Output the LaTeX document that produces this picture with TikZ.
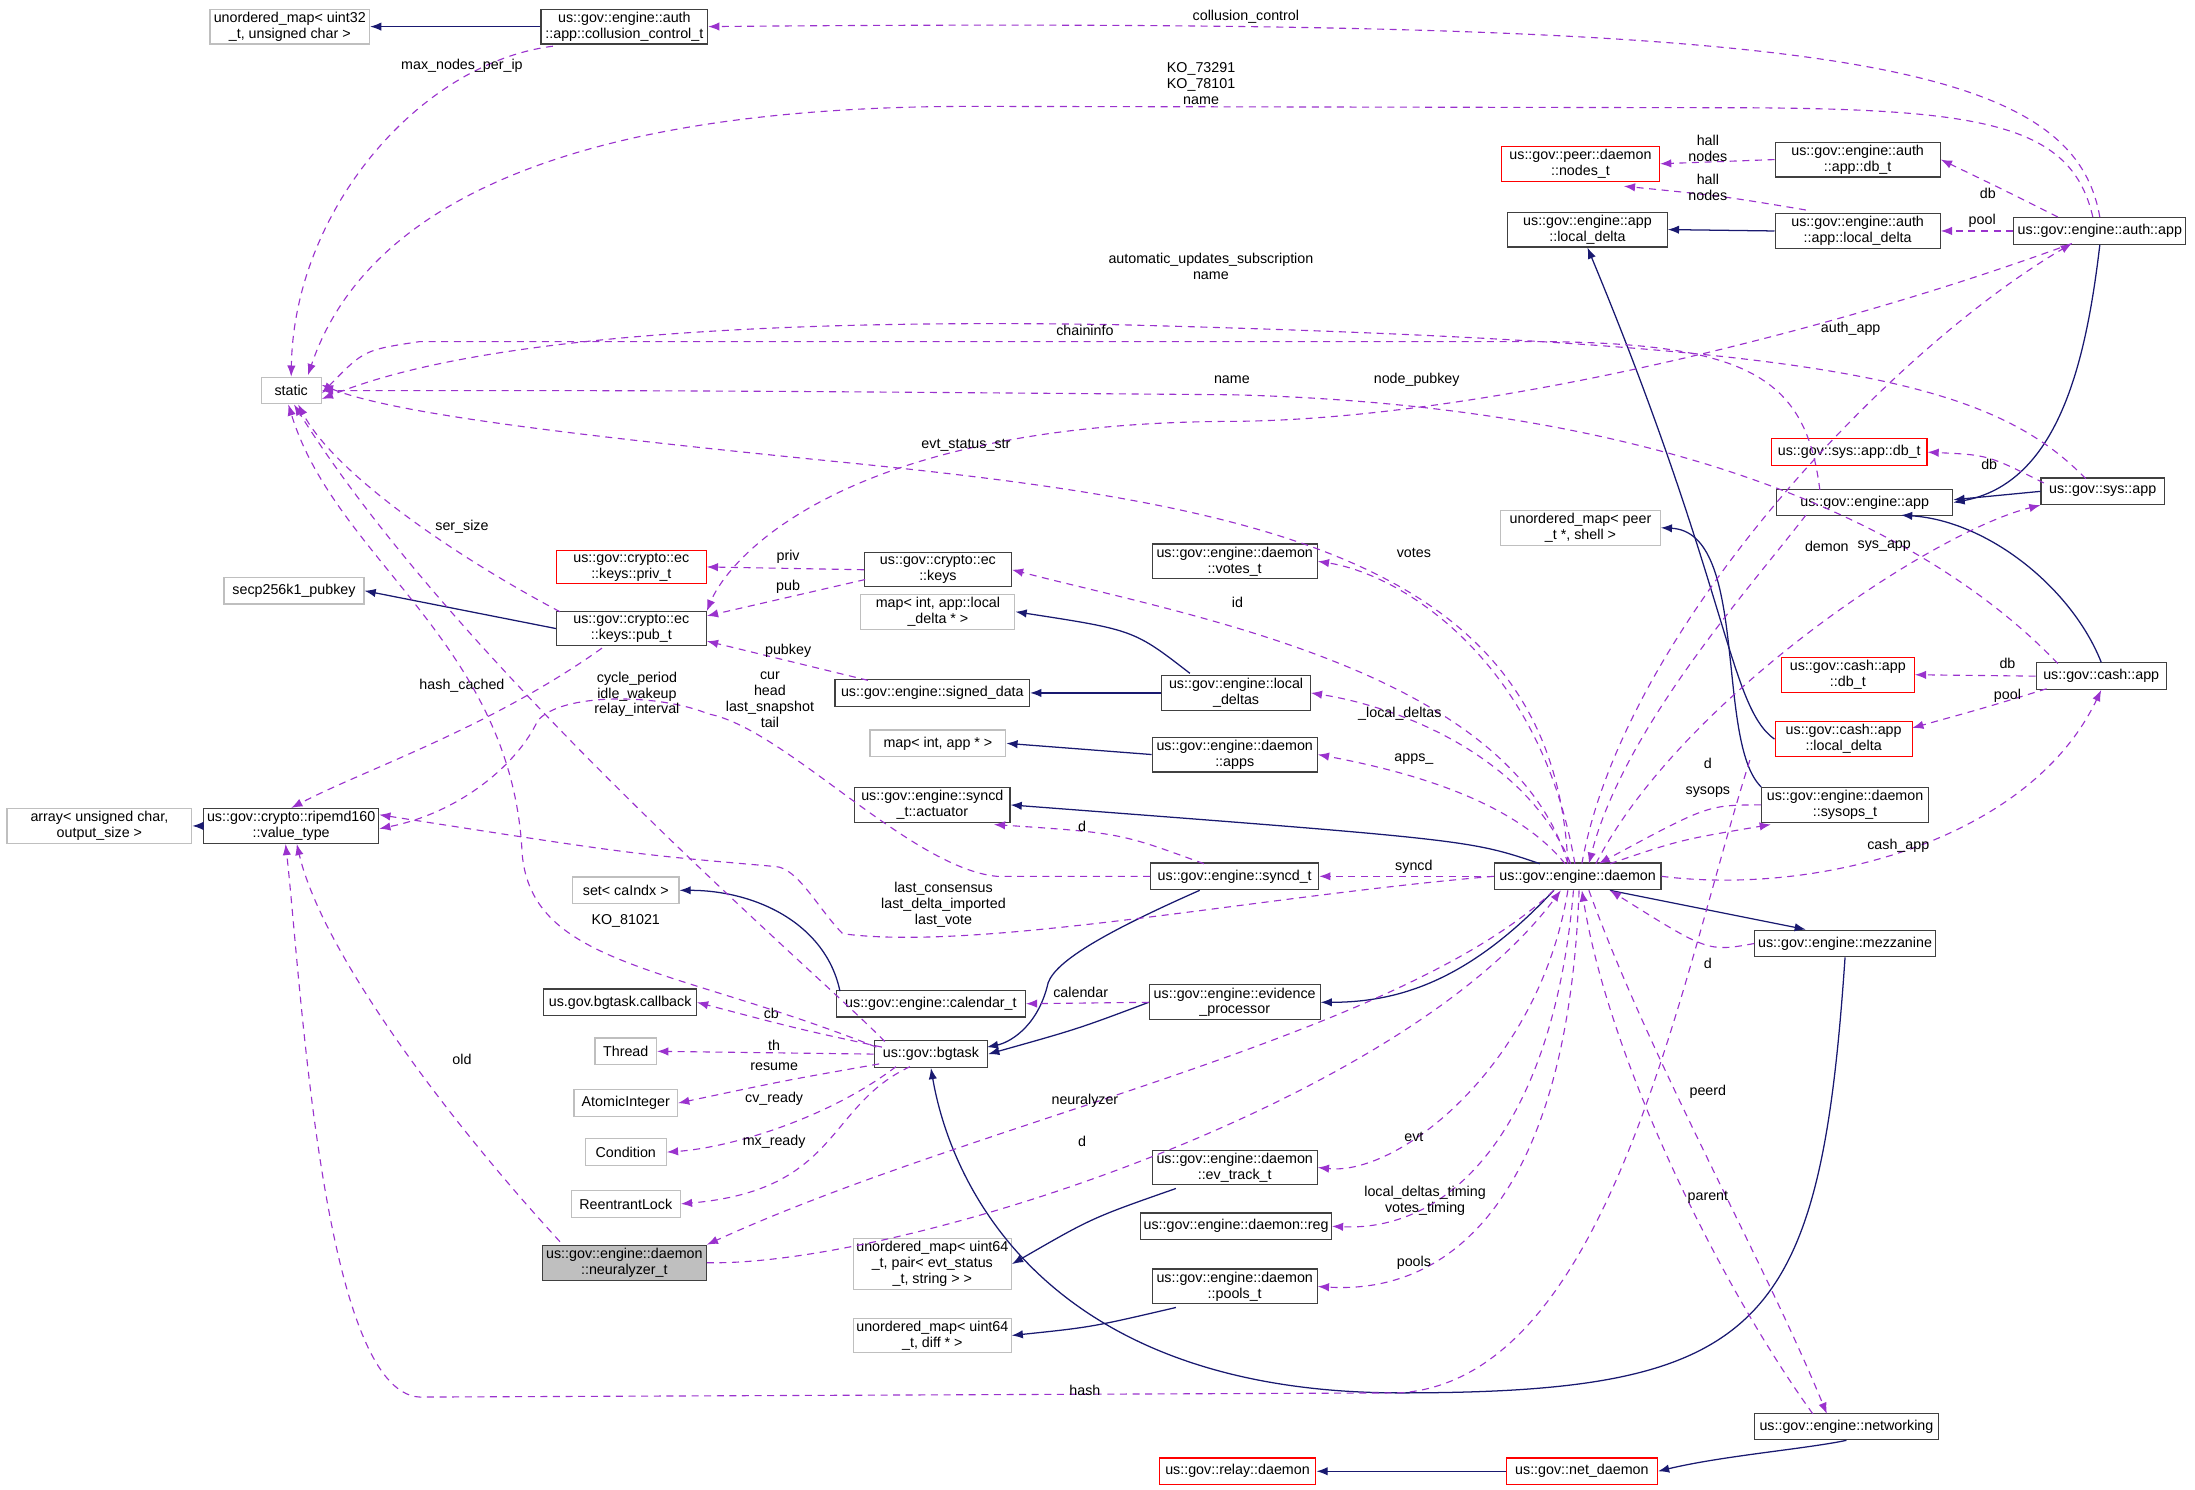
\documentclass[tikz,border=0pt]{standalone}
\usepackage{fontspec}
\setmainfont{Liberation Sans}
\usetikzlibrary{arrows.meta}
\definecolor{inhc}{HTML}{191970}
\definecolor{memc}{HTML}{9A32CD}
\definecolor{gbc}{HTML}{BFBFBF}
\begin{document}
\begin{tikzpicture}[x=1pt,y=-1pt,
  every node/.style={font=\fontsize{10.2}{11.4}\selectfont, align=center},
  box/.style={draw=black!75, line width=0.8pt, fill=white, inner xsep=2pt, inner ysep=2pt, minimum height=19pt},
  gbox/.style={box, draw=gbc},
  rbox/.style={box, draw=red},
  inh/.style={draw=inhc, line width=0.9pt, -{Latex[length=8pt,width=6pt]}},
  mem/.style={draw=memc, line width=0.8pt, dash pattern=on 5pt off 4pt, -{Latex[length=8pt,width=6pt]}},
  lbl/.style={inner sep=0.5pt}]
\useasboundingbox (0,0) rectangle (1568,1064);
% nodes
\node[gbox, minimum width=114] (um32) at (207,19) {unordered\_map< uint32\\\_t, unsigned char >};
\node[box, minimum width=119] (coll) at (446,19) {us::gov::engine::auth\\::app::collusion\_control\_t};
\node[gbox, minimum width=43] (static) at (208,279) {static};
\node[rbox, minimum width=113] (nodes) at (1129,117) {us::gov::peer::daemon\\::nodes\_t};
\node[box, minimum width=118] (aadb) at (1327,114) {us::gov::engine::auth\\::app::db\_t};
\node[box, minimum width=114] (ald) at (1134,164) {us::gov::engine::app\\::local\_delta};
\node[box, minimum width=118] (aald) at (1327,165) {us::gov::engine::auth\\::app::local\_delta};
\node[box, minimum width=123] (authapp) at (1500,165) {us::gov::engine::auth::app};
\node[rbox, minimum width=111] (sysdb) at (1321,323) {us::gov::sys::app::db\_t};
\node[box, minimum width=126] (engapp) at (1332,359) {us::gov::engine::app};
\node[box, minimum width=88] (sysapp) at (1502,351) {us::gov::sys::app};
\node[gbox, minimum width=114] (ump) at (1129,377) {unordered\_map< peer\\\_t *, shell >};
\node[rbox, minimum width=107] (privt) at (451,405) {us::gov::crypto::ec\\::keys::priv\_t};
\node[box, minimum width=105] (keys) at (670,407) {us::gov::crypto::ec\\::keys};
\node[box, minimum width=118] (votes) at (882,401) {us::gov::engine::daemon\\::votes\_t};
\node[gbox, minimum width=100] (secp) at (210,422) {secp256k1\_pubkey};
\node[box, minimum width=107] (pubt) at (451,449) {us::gov::crypto::ec\\::keys::pub\_t};
\node[gbox, minimum width=110] (mapld) at (670,437) {map< int, app::local\\\_delta * >};
\node[box, minimum width=139] (sd) at (666,495) {us::gov::engine::signed\_data};
\node[box, minimum width=106] (lds) at (883,495) {us::gov::engine::local\\\_deltas};
\node[rbox, minimum width=95] (cashdb) at (1320,482) {us::gov::cash::app\\::db\_t};
\node[box, minimum width=93] (cashapp) at (1501,483) {us::gov::cash::app};
\node[gbox, minimum width=97] (mapapp) at (670,531) {map< int, app * >};
\node[box, minimum width=118] (apps) at (882,539) {us::gov::engine::daemon\\::apps};
\node[rbox, minimum width=98] (cld) at (1317,528) {us::gov::cash::app\\::local\_delta};
\node[gbox, minimum width=132] (arr) at (71,590) {array< unsigned char,\\output\_size >};
\node[box, minimum width=125] (vt) at (208,590) {us::gov::crypto::ripemd160\\::value\_type};
\node[box, minimum width=111] (act) at (666,575) {us::gov::engine::syncd\\\_t::actuator};
\node[box, minimum width=119] (sysops) at (1318,575) {us::gov::engine::daemon\\::sysops\_t};
\node[box, minimum width=120] (syncd) at (882,626) {us::gov::engine::syncd\_t};
\node[box, minimum width=119] (D) at (1127,626) {us::gov::engine::daemon};
\node[gbox, minimum width=76] (setc) at (447,636) {set< caIndx >};
\node[box, minimum width=129] (mezz) at (1318,674) {us::gov::engine::mezzanine};
\node[box, minimum width=109] (cb) at (443,716) {us.gov.bgtask.callback};
\node[box, minimum width=135] (cal) at (665,717) {us::gov::engine::calendar\_t};
\node[box, minimum width=122] (evid) at (882,716) {us::gov::engine::evidence\\\_processor};
\node[gbox, minimum width=44] (thr) at (447,751) {Thread};
\node[box, minimum width=81] (bg) at (665,753) {us::gov::bgtask};
\node[gbox, minimum width=74] (atom) at (447,788) {AtomicInteger};
\node[gbox, minimum width=58] (cond) at (447,823) {Condition};
\node[box, minimum width=118] (evt) at (882,834) {us::gov::engine::daemon\\::ev\_track\_t};
\node[gbox, minimum width=78] (reen) at (447,860) {ReentrantLock};
\node[box, minimum width=135] (reg) at (883,876) {us::gov::engine::daemon::reg};
\node[box, fill=gbc, minimum width=117] (neur) at (446,902) {us::gov::engine::daemon\\::neuralyzer\_t};
\node[gbox, minimum width=113] (umpair) at (666,903) {unordered\_map< uint64\\\_t, pair< evt\_status\\\_t, string > >};
\node[box, minimum width=118] (pools) at (882,919) {us::gov::engine::daemon\\::pools\_t};
\node[gbox, minimum width=112] (umdiff) at (666,954) {unordered\_map< uint64\\\_t, diff * >};
\node[box, minimum width=132] (net) at (1319,1019) {us::gov::engine::networking};
\node[rbox, minimum width=112] (relay) at (884,1051) {us::gov::relay::daemon};
\node[rbox, minimum width=108] (netd) at (1130,1051) {us::gov::net\_daemon};

% solid
\draw[inh] (coll.west) -- (um32.east);
\draw[inh] (aald.west) -- (ald.east);
\draw[inh] (authapp.south) .. controls (1490,260) and (1470,345) .. (engapp.east);
\draw[inh] (sysapp.west) -- ([yshift=2pt]engapp.east);
\draw[inh] (cashapp.north) .. controls (1480,420) and (1420,372) .. (1358,368);
\draw[inh] (pubt.west) -- (secp.east);
\draw[inh] (850,481) .. controls (810,450) .. (mapld.east);
\draw[inh] (lds.west) -- (sd.east);
\draw[inh] (apps.west) -- (mapapp.east);
\draw[inh] (cld.west) .. controls (1235,505) and (1235,420) .. (ald.south);
\draw[inh] (sysops.north west) .. controls (1225,530) and (1250,380) .. (ump.east);
\draw[inh] (vt.west) -- (arr.east);
\draw[inh] (1100,617) .. controls (1050,600) .. (act.east);
\draw[inh] (1110,636) .. controls (1050,700) and (1000,716) .. (evid.east);
\draw[inh] (1150,636) -- (1290,664);
\draw[inh] (857,636) .. controls (780,670) and (750,690) .. (748,705) .. controls (740,735) and (720,745) .. (705,748);
\draw[inh] (evid.west) .. controls (770,735) .. (bg.east);
\draw[inh] (600,708) .. controls (590,660) and (540,636) .. (setc.east);
\draw[inh] (mezz.south) .. controls (1300,950) and (1260,995) .. (1000,995) .. controls (750,995) and (680,850) .. (bg.south);
\draw[inh] (840,849) .. controls (780,870) .. (umpair.east);
\draw[inh] (840,934) .. controls (780,948) .. (umdiff.east);
\draw[inh] (net.south) .. controls (1290,1035) and (1230,1040) .. (netd.east);
\draw[inh] (netd.west) -- (relay.east);

% dashed (members)
\draw[mem] (authapp.north) .. controls (1480,40) and (1300,12) .. (coll.east);
\node[lbl] (l1) at (890,12) {collusion\_control};
\draw[mem] (395,33) .. controls (300,45) and (210,150) .. (static.north);
\node[lbl] (l2) at (330,47) {max\_nodes\_per\_ip};
\draw[mem] (1495,155) .. controls (1480,90) and (1420,78) .. (1250,77) -- (700,76) .. controls (400,75) and (260,150) .. (220,268);
\node[lbl] (l3) at (858,60) {KO\_73291\\KO\_78101\\name};
\draw[mem] (aadb.west) -- (nodes.east);
\node[lbl] (l4) at (1220,106) {hall\\nodes};
\draw[mem] (1290,150) .. controls (1230,140) .. (1160,133);
\node[lbl] (l5) at (1220,134) {hall\\nodes};
\draw[mem] (1470,155) .. controls (1430,135) .. (aadb.east);
\node[lbl] (l6) at (1420,138) {db};
\draw[mem] (authapp.west) -- (aald.east);
\node[lbl] (l7) at (1416,158) {pool};
\draw[mem] (1490,342) .. controls (1420,270) and (1300,245) .. (800,232) .. controls (400,225) and (280,265) .. ([yshift=-6pt]static.east);
\node[lbl] (l8) at (865,190) {automatic\_updates\_subscription\\name};
\draw[mem] (1300,350) .. controls (1290,270) and (1250,245) .. (1100,244) -- (300,244) .. controls (260,250) .. ([yshift=-2pt]static.east);
\node[lbl] (l9) at (775,236) {chaininfo};
\draw[mem] (1470,474) .. controls (1380,380) and (1200,290) .. (880,282) .. controls (500,279) .. (static.east);
\node[lbl] (l10) at (880,271) {name};
\draw[mem] (1480,174) .. controls (1300,240) and (1050,300) .. (880,301) .. controls (600,302) and (520,400) .. (pubt.north east);
\node[lbl] (l11) at (1012,271) {node\_pubkey};
\draw[mem] (1120,617) .. controls (1110,400) and (900,360) .. (600,330) .. controls (400,310) and (280,295) .. ([yshift=4pt]static.east);
\node[lbl] (l12) at (690,318) {evt\_status\_str};
\draw[mem] (400,437) .. controls (330,400) and (240,340) .. ([xshift=5pt]static.south);
\node[lbl] (l13) at (330,376) {ser\_size};
\draw[mem] (keys.west) -- (privt.east);
\node[lbl] (l14) at (563,398) {priv};
\draw[mem] (618,414) -- (505,440);
\node[lbl] (l15) at (563,419) {pub};
\draw[mem] (620,486) -- (505,458);
\node[lbl] (l16) at (563,465) {pubkey};
\draw[mem] (1460,345) .. controls (1420,325) .. (sysdb.east);
\node[lbl] (l17) at (1421,332) {db};
\draw[mem] (cashapp.west) -- (cashdb.east);
\node[lbl] (l18) at (1434,474) {db};
\draw[mem] (1462,492) .. controls (1420,505) .. (1366,520);
\node[lbl] (l19) at (1434,497) {pool};
% daemon edges
\draw[mem] (1130,617) .. controls (1160,450) and (1350,250) .. (1480,174);
\node[lbl] (l20) at (1322,235) {auth\_app};
\draw[mem] (1290,368) .. controls (1250,420) and (1160,520) .. (1135,617);
\node[lbl] (l21) at (1305,390) {demon};
\draw[mem] (1140,617) .. controls (1200,500) and (1380,380) .. (sysapp.south west);
\node[lbl] (l22) at (1346,390) {sys\_app};
\draw[mem] (1120,617) .. controls (1080,480) and (850,440) .. (keys.east);
\node[lbl] (l23) at (884,430) {id};
\draw[mem] (1125,617) .. controls (1100,470) and (1000,410) .. (votes.east);
\node[lbl] (l24) at (1010,395) {votes};
\draw[mem] (1122,617) .. controls (1090,540) and (1000,505) .. (lds.east);
\node[lbl] (l25) at (1000,510) {\_local\_deltas};
\draw[mem] (1118,617) .. controls (1080,570) and (1000,550) .. (apps.east);
\node[lbl] (l26) at (1010,542) {apps\_};
\draw[mem] (sysops.west) .. controls (1220,575) .. (1142,617);
\node[lbl] (l27) at (1220,545) {d};
\draw[mem] (1150,617) .. controls (1200,600) .. (1265,589);
\node[lbl] (l28) at (1220,566) {sysops};
\draw[mem] (D.east) .. controls (1300,640) and (1450,600) .. (cashapp.south);
\node[lbl] (l29) at (1356,604) {cash\_app};
\draw[mem] (D.west) -- (syncd.east);
\node[lbl] (l30) at (1010,619) {syncd};
\draw[mem] (860,617) .. controls (800,595) .. (710,589);
\node[lbl] (l31) at (773,590) {d};
\draw[mem] (mezz.west) .. controls (1220,680) .. (1150,636);
\node[lbl] (l32) at (1220,688) {d};
\draw[mem] (1110,636) .. controls (1000,740) and (700,800) .. (neur.north east);
\node[lbl] (l33) at (775,786) {neuralyzer};
\draw[mem] (neur.east) .. controls (640,905) and (1000,790) .. (1115,636);
\node[lbl] (l34) at (773,815) {d};
\draw[mem] (1120,636) .. controls (1100,760) and (1000,840) .. (evt.east);
\node[lbl] (l35) at (1010,812) {evt};
\draw[mem] (1124,636) .. controls (1110,800) and (1040,880) .. (reg.east);
\node[lbl] (l36) at (1018,858) {local\_deltas\_timing\\votes\_timing};
\draw[mem] (1128,636) .. controls (1120,850) and (1040,925) .. (pools.east);
\node[lbl] (l37) at (1010,902) {pools};
\draw[mem] (1135,636) .. controls (1180,760) and (1260,900) .. (1305,1010);
\node[lbl] (l38) at (1220,780) {peerd};
\draw[mem] (1295,1010) .. controls (1230,920) and (1150,760) .. (1130,636);
\node[lbl] (l39) at (1220,855) {parent};
\draw[mem] (1250,543) .. controls (1200,700) and (1150,985) .. (1000,995) -- (300,998) .. controls (230,995) and (215,700) .. ([xshift=-4pt]vt.south);
\node[lbl] (l40) at (775,993) {hash};
\draw[mem] (400,887) .. controls (320,800) and (230,680) .. ([xshift=4pt]vt.south);
\node[lbl] (l41) at (330,757) {old};
\draw[mem] (430,463) .. controls (350,520) and (260,550) .. (vt.north);
\node[lbl] (l42) at (330,490) {hash\_cached};
\draw[mem] (syncd.west) -- (712,626) .. controls (650,620) and (560,520) .. (506,510) .. controls (470,495) and (400,495) .. (384,515) .. controls (370,545) and (330,580) .. ([yshift=-2pt]vt.east);
\node[lbl] (l43) at (550,500) {cur\\head\\last\_snapshot\\tail};
\draw[mem] (D.west) .. controls (900,640) and (700,680) .. (602,667) .. controls (585,650) and (570,620) .. (554,619) .. controls (450,610) .. ([yshift=8pt]vt.east);
\node[lbl] (l44) at (674,646) {last\_consensus\\last\_delta\_imported\\last\_vote};
% bgtask edges
\draw[mem] (630,748) .. controls (570,735) .. (cb.east);
\node[lbl] (l45) at (551,724) {cb};
\draw[mem] (bg.west) -- (thr.east);
\node[lbl] (l46) at (553,747) {th};
\draw[mem] (628,760) .. controls (560,772) .. (atom.east);
\node[lbl] (l47) at (553,762) {resume};
\draw[mem] (640,762) .. controls (590,800) and (520,820) .. (cond.east);
\node[lbl] (l48) at (553,785) {cv\_ready};
\draw[mem] (650,762) .. controls (590,790) and (600,850) .. (reen.east);
\node[lbl] (l49) at (553,816) {mx\_ready};
\draw[mem] (632,744) .. controls (590,700) and (330,480) .. ([xshift=2pt]static.south);
\node[lbl] (l50) at (455,496) {cycle\_period\\idle\_wakeup\\relay\_interval};
\draw[mem] (626,748) .. controls (480,690) and (380,690) .. (373,610) .. controls (366,460) and (240,400) .. ([xshift=-2pt]static.south);
\node[lbl] (l51) at (447,658) {KO\_81021};
\draw[mem] (evid.west) -- (cal.east);
\node[lbl] (l52) at (772,709) {calendar};
\end{tikzpicture}
\end{document}
